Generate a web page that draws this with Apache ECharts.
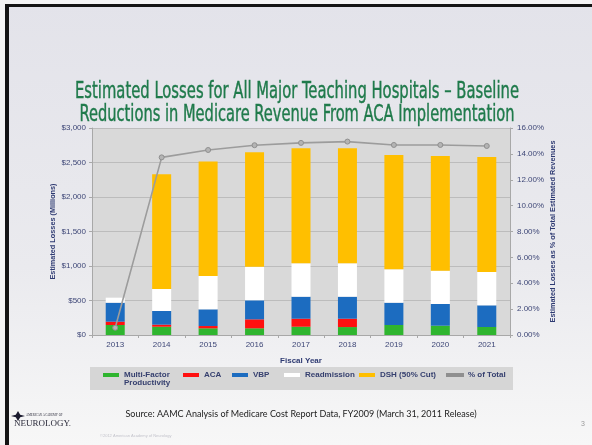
<!DOCTYPE html>
<html>
<head>
<meta charset="utf-8">
<script src="https://cdn.jsdelivr.net/npm/echarts@6/dist/echarts.min.js"></script>
<style>
  html, body { margin: 0; padding: 0; background: #f2f2f2; }
  #chart { width: 592px; height: 445px; }
</style>
</head>
<body>
<div id="chart"></div>
<script>
// Fiscal years on the category axis
const years = ['2013', '2014', '2015', '2016', '2017', '2018', '2019', '2020', '2021'];

// Estimated losses by component, $ millions
const multiFactor = [145, 120, 97, 97, 120, 115, 145, 135, 116];
const aca         = [48, 30, 33, 130, 116, 121, 0, 0, 0];
const vbp         = [275, 198, 242, 276, 319, 319, 323, 314, 314];
const readmission = [73, 319, 483, 487, 484, 484, 484, 483, 483];
const dsh         = [0, 1663, 1660, 1660, 1666, 1666, 1658, 1663, 1667];

// Losses as a share of total estimated revenues, percent
const pctOfTotal = [0.56, 13.73, 14.3, 14.67, 14.85, 14.95, 14.69, 14.69, 14.61];

// Axis tick labels
const leftTicks  = ['$0', '$500', '$1,000', '$1,500', '$2,000', '$2,500', '$3,000'];
const rightTicks = ['0.00%', '2.00%', '4.00%', '6.00%', '8.00%', '10.00%', '12.00%', '14.00%', '16.00%'];

const seriesNames = ['Multi-Factor Productivity', 'ACA', 'VBP', 'Readmission', 'DSH (50% Cut)', '% of Total'];
const colors = ['#2fb52f', '#ff1010', '#1c6cc0', '#ffffff', '#ffbf00', '#9c9c9c'];

const titleLines = [
  'Estimated Losses for All Major Teaching Hospitals \u2013 Baseline',
  'Reductions in Medicare Revenue From ACA Implementation'
];
const titleFont = '23px "Liberation Sans Narrow", "DejaVu Sans Condensed", sans-serif';

const axisText = { color: '#3e4777', fontSize: 8, fontFamily: 'Liberation Sans, Arial, sans-serif' };
const axisNameText = { color: '#2e3a72', fontSize: 7.3, fontWeight: 'bold', fontFamily: 'Liberation Sans, Arial, sans-serif' };
const legendText = { color: '#36406f', fontSize: 8, fontWeight: 'bold', lineHeight: 8,
                     fontFamily: 'Liberation Sans, Arial, sans-serif' };

// horizontal squeeze so each condensed title line spans the wanted width
const measureCtx = document.createElement('canvas').getContext('2d');
measureCtx.font = titleFont;
function squeezeTo(text, width) {
  return width / measureCtx.measureText(text).width;
}

const chart = echarts.init(document.getElementById('chart'), null, { renderer: 'canvas' });

function legendAt(name, left, top, iconH, formatter) {
  return {
    data: [{ name: name, icon: 'rect' }],
    left: left, top: top, padding: 0, orient: 'horizontal',
    itemWidth: 16, itemHeight: iconH, itemGap: 3,
    textStyle: legendText,
    formatter: formatter || (n => n),
    selectedMode: false, z: 10
  };
}

function barSeries(i, values) {
  return {
    name: seriesNames[i], type: 'bar', stack: 'losses', data: values,
    barWidth: 19, itemStyle: { color: colors[i] }, silent: true
  };
}

function titleText(text, y, width) {
  return { type: 'text', x: 297, y: y, z: 5, scaleX: squeezeTo(text, width),
    style: { text: text, fill: '#1f7a4b', font: titleFont, align: 'center', verticalAlign: 'middle',
             stroke: '#1f7a4b', lineWidth: 0.4 } };
}

chart.setOption({
  animation: false,
  backgroundColor: {
    type: 'linear', x: 0, y: 0, x2: 0, y2: 1,
    colorStops: [{ offset: 0, color: '#e3e3ea' }, { offset: 0.6, color: '#eaeaee' }, { offset: 1, color: '#f7f7f7' }]
  },
  graphic: [
    // slide frame
    { type: 'rect', shape: { x: 0, y: 0, width: 592, height: 4 }, style: { fill: '#f4f4f4' }, z: 0 },
    { type: 'rect', shape: { x: 0, y: 0, width: 5, height: 445 }, style: { fill: '#f4f4f4' }, z: 0 },
    { type: 'rect', shape: { x: 5, y: 4, width: 587, height: 3 }, style: { fill: '#141414' }, z: 1 },
    { type: 'rect', shape: { x: 5, y: 4, width: 4, height: 441 }, style: { fill: '#141414' }, z: 1 },
    // title
    titleText(titleLines[0], 92, 444),
    titleText(titleLines[1], 115, 435),
    // legend panel
    { type: 'rect', shape: { x: 90, y: 367, width: 423, height: 23 }, style: { fill: '#d6d6d6' }, z: 2 },
    // source line
    { type: 'text', x: 301, y: 414, z: 5,
      style: { text: 'Source: AAMC Analysis of Medicare Cost Report Data, FY2009 (March 31, 2011 Release)',
               fill: '#222222', font: '9px Lato, "Open Sans", sans-serif', align: 'center', verticalAlign: 'middle' } },
    // footer logo
    { type: 'polygon', z: 5,
      shape: { points: [[18, 411], [20.2, 414.8], [25, 416], [20.2, 417.2], [18, 421], [15.8, 417.2], [11, 416], [15.8, 414.8]] },
      style: { fill: '#1a1a2e' } },
    { type: 'text', x: 26, y: 415, z: 5,
      style: { text: 'AMERICAN ACADEMY OF', fill: '#2a2a3a', font: '3px "Liberation Serif", serif',
               align: 'left', verticalAlign: 'middle' } },
    { type: 'text', x: 14, y: 424, z: 5,
      style: { text: 'NEUROLOGY.', fill: '#2a2a3a', font: '9px "Liberation Serif", serif',
               align: 'left', verticalAlign: 'middle' } },
    { type: 'text', x: 100, y: 436, z: 5,
      style: { text: '\u00a92012 American Academy of Neurology', fill: '#c4c4cc',
               font: '4px "Liberation Sans Narrow", "Liberation Sans", sans-serif', align: 'left', verticalAlign: 'middle' } },
    { type: 'text', x: 583, y: 424, z: 5,
      style: { text: '3', fill: '#9a9a9a', font: '7px "Liberation Sans", sans-serif',
               align: 'center', verticalAlign: 'middle' } }
  ],
  grid: {
    left: 92, right: 82, top: 128, bottom: 110,
    show: true, backgroundColor: '#d9d9d9', borderWidth: 0
  },
  legend: [
    legendAt(seriesNames[0], 103, 363, 4, () => '\nMulti-Factor\nProductivity'),
    legendAt(seriesNames[1], 183, 371, 4),
    legendAt(seriesNames[2], 232, 371, 4),
    legendAt(seriesNames[3], 284, 371, 4),
    legendAt(seriesNames[4], 359, 371, 4),
    legendAt(seriesNames[5], 446, 371, 2)
  ],
  xAxis: {
    type: 'category', data: years,
    name: 'Fiscal Year', nameLocation: 'middle', nameGap: 22,
    nameTextStyle: Object.assign({}, axisNameText, { fontSize: 8 }),
    axisLine: { lineStyle: { color: '#a8a8a8' } },
    axisTick: { show: true, length: 3, lineStyle: { color: '#a8a8a8' } },
    axisLabel: Object.assign({ margin: 6 }, axisText)
  },
  yAxis: [
    {
      type: 'value', min: 0, max: 3000, interval: 500, position: 'left',
      name: 'Estimated Losses (Millions)', nameLocation: 'middle', nameGap: 36, nameRotate: 90,
      nameMoveOverlap: false,
      nameTextStyle: axisNameText,
      axisLine: { show: true, lineStyle: { color: '#a8a8a8' } },
      axisTick: { show: true, length: 3, lineStyle: { color: '#a8a8a8' } },
      axisLabel: Object.assign({ margin: 6, formatter: (v, i) => leftTicks[i] }, axisText),
      splitLine: { show: true, lineStyle: { color: '#bcbcbc', width: 1 } }
    },
    {
      type: 'value', min: 0, max: 16, interval: 2, position: 'right',
      name: 'Estimated Losses as % of Total Estimated Revenues', nameLocation: 'middle', nameGap: 39, nameRotate: 90,
      nameMoveOverlap: false,
      nameTextStyle: axisNameText,
      axisLine: { show: true, lineStyle: { color: '#a8a8a8' } },
      axisTick: { show: true, length: 3, lineStyle: { color: '#a8a8a8' } },
      axisLabel: Object.assign({ margin: 7, formatter: (v, i) => rightTicks[i] }, axisText),
      splitLine: { show: false }
    }
  ],
  series: [
    barSeries(0, multiFactor),
    barSeries(1, aca),
    barSeries(2, vbp),
    barSeries(3, readmission),
    barSeries(4, dsh),
    {
      name: seriesNames[5], type: 'line', yAxisIndex: 1, data: pctOfTotal,
      symbol: 'circle', symbolSize: 5, showSymbol: true, silent: true,
      lineStyle: { color: colors[5], width: 1.6 },
      itemStyle: { color: '#b4b4b4', borderColor: '#8f8f8f', borderWidth: 1 },
      z: 5
    }
  ]
});
</script>
</body>
</html>
